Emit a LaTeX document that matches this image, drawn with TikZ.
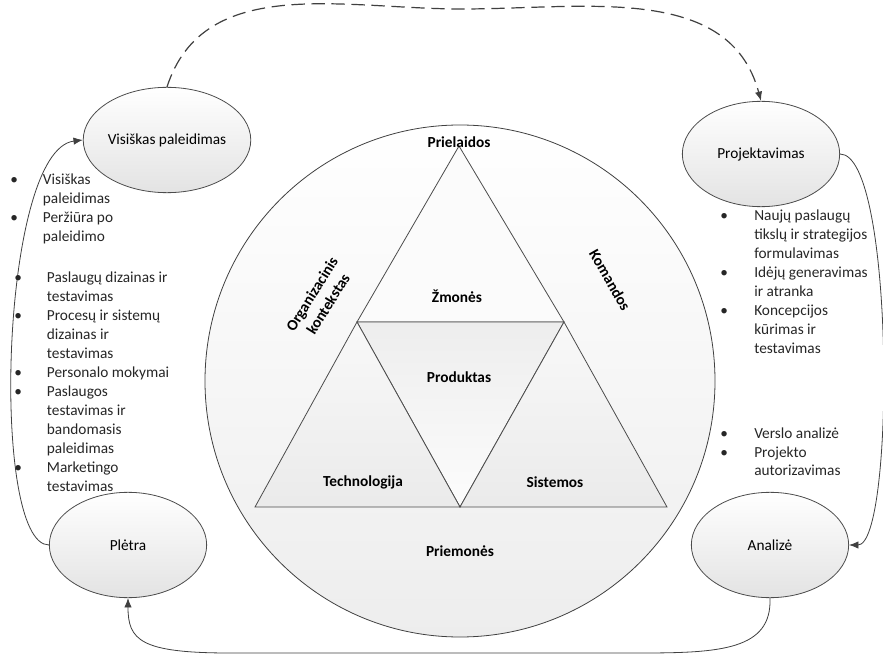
\documentclass[tikz,border=0pt]{standalone}
\usepackage{fontspec}
\setmainfont{Carlito}
\usetikzlibrary{shapes.geometric,arrows.meta}

\tikzset{
  phase/.style={ellipse, draw=black!70, line width=0.6pt, top color=white,
    bottom color=gray!22, minimum width=118pt, minimum height=79pt,
    inner sep=0pt, font=\fontsize{11.5}{14}\selectfont},
  lbl/.style={inner sep=0pt, font=\fontsize{11.5}{14.25}\selectfont\bfseries},
  flow/.style={draw=black!75, line width=0.6pt,
    -{Latex[length=7pt,width=5.5pt]}},
  bullets/.style={anchor=base west, inner sep=0pt, text=black!85,
    font=\fontsize{11.5}{14.25}\selectfont},
  tri/.style={draw=black!70, line width=0.6pt}
}

\begin{document}
\begin{tikzpicture}[x=0.75pt, y=-0.75pt]
  \useasboundingbox (0,0) rectangle (883,656);

  % big circle
  \draw[draw=black!75, line width=0.6pt, top color=white, bottom color=gray!14]
    (460,381) ellipse (255 and 256);

  % triangles
  \coordinate (T) at (459,146);
  \coordinate (L) at (357,322);
  \coordinate (R) at (564,322);
  \coordinate (BL) at (255,507);
  \coordinate (BM) at (460,507);
  \coordinate (BR) at (667,507);

  \draw[tri, fill=white!97!gray] (T) -- (L) -- (R) -- cycle;
  \draw[tri, top color=gray!14, bottom color=gray!2] (L) -- (R) -- (BM) -- cycle;
  \draw[tri, top color=gray!5, bottom color=gray!16] (L) -- (BL) -- (BM) -- cycle;
  \draw[tri, top color=gray!5, bottom color=gray!16] (R) -- (BM) -- (BR) -- cycle;

  \node[lbl] (prie) at (459,142) {Prielaidos};
  \node[lbl] (zmo) at (457,296) {Žmonės};
  \node[lbl] (prod) at (459,377) {Produktas};
  \node[lbl] (tech) at (363,482) {Technologija};
  \node[lbl] (sist) at (555,482) {Sistemos};
  \node[lbl] (prim) at (460,551) {Priemonės};
  \node[lbl, rotate=58, align=center] (org) at (320,299) {Organizacinis\\kontekstas};
  \node[lbl, rotate=-60] (kom) at (610,280) {Komandos};

  % phases
  \node[phase] (vis) at (167,140) {Visiškas paleidimas};
  \node[phase] (proj) at (761,154) {Projektavimas};
  \node[phase] (ple) at (128,545) {Plėtra};
  \node[phase] (ana) at (770,545) {Analizė};

  % connectors
  \coordinate (arc) at (462,9);
  \draw[flow, line width=0.9pt, dash pattern=on 10pt off 5pt]
    (vis.north) to[out=72, in=180] (arc) to[out=0, in=105] (proj.north);
  \draw[flow] (proj.east) .. controls (895,154) and (895,545) .. (ana.east);
  \draw[flow] (ana.south) .. controls (772,650) and (720,653) .. (640,653)
    -- (230,653) .. controls (140,653) and (128,640) .. (ple.south);
  \draw[flow] (ple.west) .. controls (-10,545) and (0,150) .. (vis.west);

  % lists
  \node[bullets] (l1) at (10,185) {\begin{tabular}[t]{@{}p{24.5pt}@{}l@{}}
    \textbullet & Visiškas\\ & paleidimas\\
    \textbullet & Peržiūra po\\ & paleidimo
  \end{tabular}};
  \node[bullets] (l2) at (14,283) {\begin{tabular}[t]{@{}p{24.5pt}@{}l@{}}
    \textbullet & Paslaugų dizainas ir\\ & testavimas\\
    \textbullet & Procesų ir sistemų\\ & dizainas ir\\ & testavimas\\
    \textbullet & Personalo mokymai\\
    \textbullet & Paslaugos\\ & testavimas ir\\ & bandomasis\\ & paleidimas\\
    \textbullet & Marketingo\\ & testavimas
  \end{tabular}};
  \node[bullets] (r1) at (720,221) {\begin{tabular}[t]{@{}p{25.5pt}@{}l@{}}
    \textbullet & Naujų paslaugų\\ & tikslų ir strategijos\\ & formulavimas\\
    \textbullet & Idėjų generavimas\\ & ir atranka\\
    \textbullet & Koncepcijos\\ & kūrimas ir\\ & testavimas
  \end{tabular}};
  \node[bullets] (r2) at (720,438) {\begin{tabular}[t]{@{}p{25.5pt}@{}l@{}}
    \textbullet & Verslo analizė\\
    \textbullet & Projekto\\ & autorizavimas
  \end{tabular}};
\end{tikzpicture}
\end{document}
